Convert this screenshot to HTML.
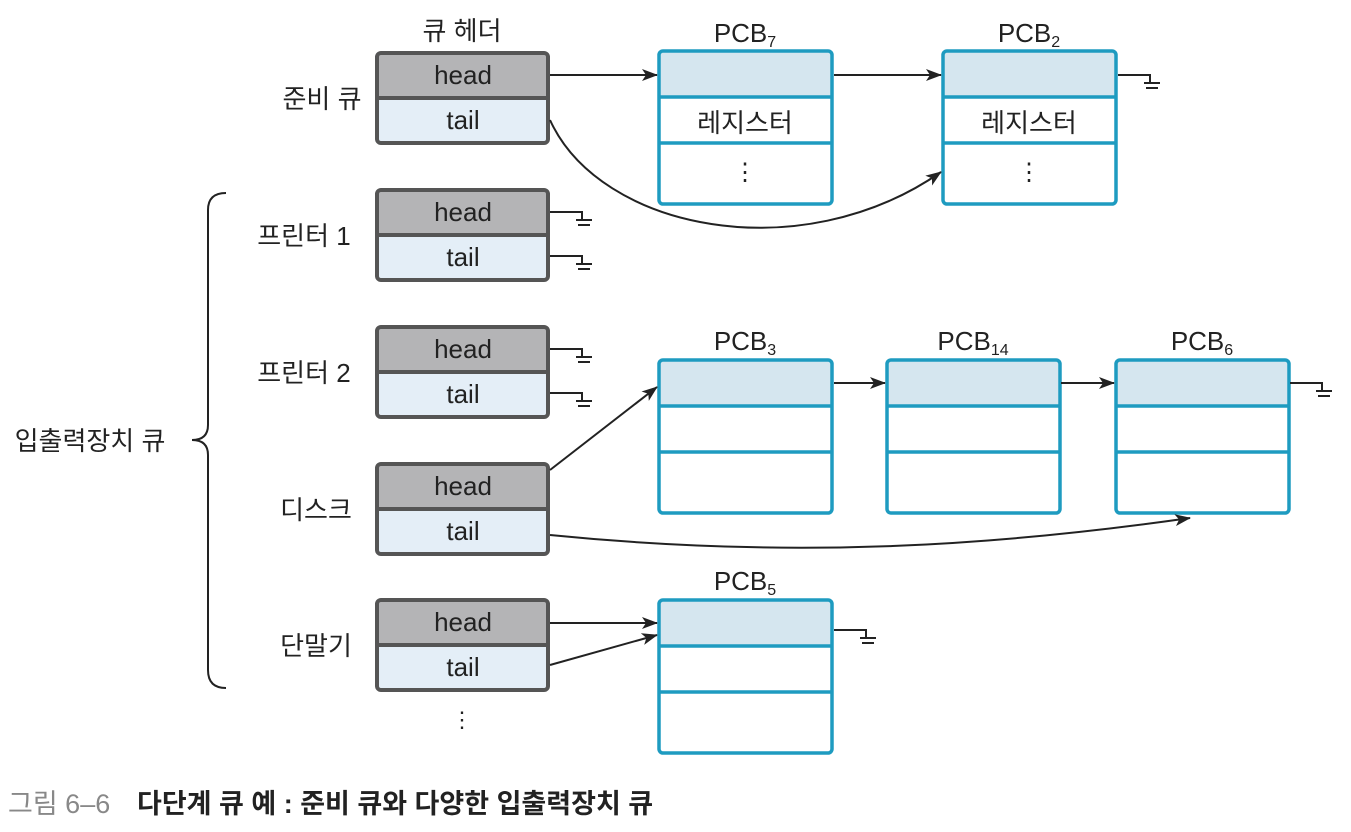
<!DOCTYPE html>
<html><head><meta charset="utf-8"><style>
body{margin:0;background:#fff}
svg text{font-family:"Liberation Sans","Noto Sans CJK KR",sans-serif;fill:#222}
</style></head><body>
<svg width="1351" height="827" viewBox="0 0 1351 827" xmlns="http://www.w3.org/2000/svg">
<defs>
<marker id="a" markerWidth="16" markerHeight="12" refX="15" refY="6" orient="auto" markerUnits="userSpaceOnUse"><path d="M0,0 L16,6 L0,12 L4,6 z" fill="#222"/></marker>
<g id="q">
<rect x="0" y="0" width="171" height="45" fill="#b4b4b6"/>
<rect x="0" y="45" width="171" height="45" fill="#e4eef7"/>
<line x1="0" y1="45" x2="171" y2="45" stroke="#555" stroke-width="4"/>
<rect x="0" y="0" width="171" height="90" rx="4" fill="none" stroke="#555" stroke-width="4"/>
<text x="86" y="31" font-size="26" text-anchor="middle">head</text>
<text x="86" y="76" font-size="26" text-anchor="middle">tail</text>
</g>
<g id="p">
<rect x="0" y="0" width="173" height="46" fill="#d5e6ef"/>
<line x1="0" y1="46" x2="173" y2="46" stroke="#1e9bc0" stroke-width="3.5"/>
<line x1="0" y1="92" x2="173" y2="92" stroke="#1e9bc0" stroke-width="3.5"/>
<rect x="0" y="0" width="173" height="153" rx="4" fill="none" stroke="#1e9bc0" stroke-width="3.5"/>
</g>
<g id="g"><path d="M0,0 H32 V8 M26,8 H42 M28,13 H40" stroke="#222" stroke-width="2" fill="none"/></g>
</defs>
<text x="462" y="40" font-size="26" text-anchor="middle">큐 헤더</text>
<use href="#q" x="377" y="53"/>
<use href="#q" x="377" y="190"/>
<use href="#q" x="377" y="327"/>
<use href="#q" x="377" y="464"/>
<use href="#q" x="377" y="600"/>
<text x="322" y="108" font-size="26" text-anchor="middle">준비 큐</text>
<text x="304" y="245" font-size="26" text-anchor="middle">프린터 1</text>
<text x="304" y="382" font-size="26" text-anchor="middle">프린터 2</text>
<text x="316" y="519" font-size="26" text-anchor="middle">디스크</text>
<text x="316" y="655" font-size="26" text-anchor="middle">단말기</text>
<text x="90" y="450" font-size="26" text-anchor="middle">입출력장치 큐</text>
<path d="M226,193 Q208,193 208,210 V425 Q208,440 192,440 Q208,440 208,455 V670 Q208,688 226,688" stroke="#222" stroke-width="2" fill="none"/>
<text x="462" y="727" font-size="22" text-anchor="middle">⋮</text>

<use href="#p" x="659" y="51"/>
<use href="#p" x="943" y="51"/>
<use href="#p" x="659" y="360"/>
<use href="#p" x="887" y="360"/>
<use href="#p" x="1116" y="360"/>
<use href="#p" x="659" y="600"/>
<g font-size="26" text-anchor="middle">
<text x="745" y="132">레지스터</text><text x="1029" y="132">레지스터</text>
<text x="745" y="180" font-size="24">⋮</text><text x="1029" y="180" font-size="24">⋮</text>
<text x="745" y="42">PCB<tspan font-size="16" dy="5">7</tspan></text>
<text x="1029" y="42">PCB<tspan font-size="16" dy="5">2</tspan></text>
<text x="745" y="350">PCB<tspan font-size="16" dy="5">3</tspan></text>
<text x="973" y="350">PCB<tspan font-size="16" dy="5">14</tspan></text>
<text x="1202" y="350">PCB<tspan font-size="16" dy="5">6</tspan></text>
<text x="745" y="590">PCB<tspan font-size="16" dy="5">5</tspan></text>
</g>
<g stroke="#222" stroke-width="2" fill="none">
<line x1="550" y1="75" x2="657" y2="75" marker-end="url(#a)"/>
<line x1="834" y1="75" x2="941" y2="75" marker-end="url(#a)"/>
<path d="M550,120 C600,230 800,270 941,172" marker-end="url(#a)"/>
<line x1="834" y1="383" x2="885" y2="383" marker-end="url(#a)"/>
<line x1="1061" y1="383" x2="1114" y2="383" marker-end="url(#a)"/>
<line x1="550" y1="470" x2="657" y2="387" marker-end="url(#a)"/>
<path d="M550,535 C800,560 1000,545 1190,518" marker-end="url(#a)"/>
<line x1="550" y1="623" x2="657" y2="623" marker-end="url(#a)"/>
<line x1="550" y1="665" x2="657" y2="635" marker-end="url(#a)"/>
</g>
<use href="#g" x="1118" y="75"/>
<use href="#g" x="1290" y="383"/>
<use href="#g" x="834" y="630"/>
<use href="#g" x="550" y="212"/>
<use href="#g" x="550" y="256"/>
<use href="#g" x="550" y="349"/>
<use href="#g" x="550" y="393"/>
<text x="8" y="813" font-size="27" style="fill:#888">그림 6–6</text>
<text x="137" y="813" font-size="27" style="font-weight:600">다단계 큐 예 : 준비 큐와 다양한 입출력장치 큐</text>
</svg>
</body></html>
